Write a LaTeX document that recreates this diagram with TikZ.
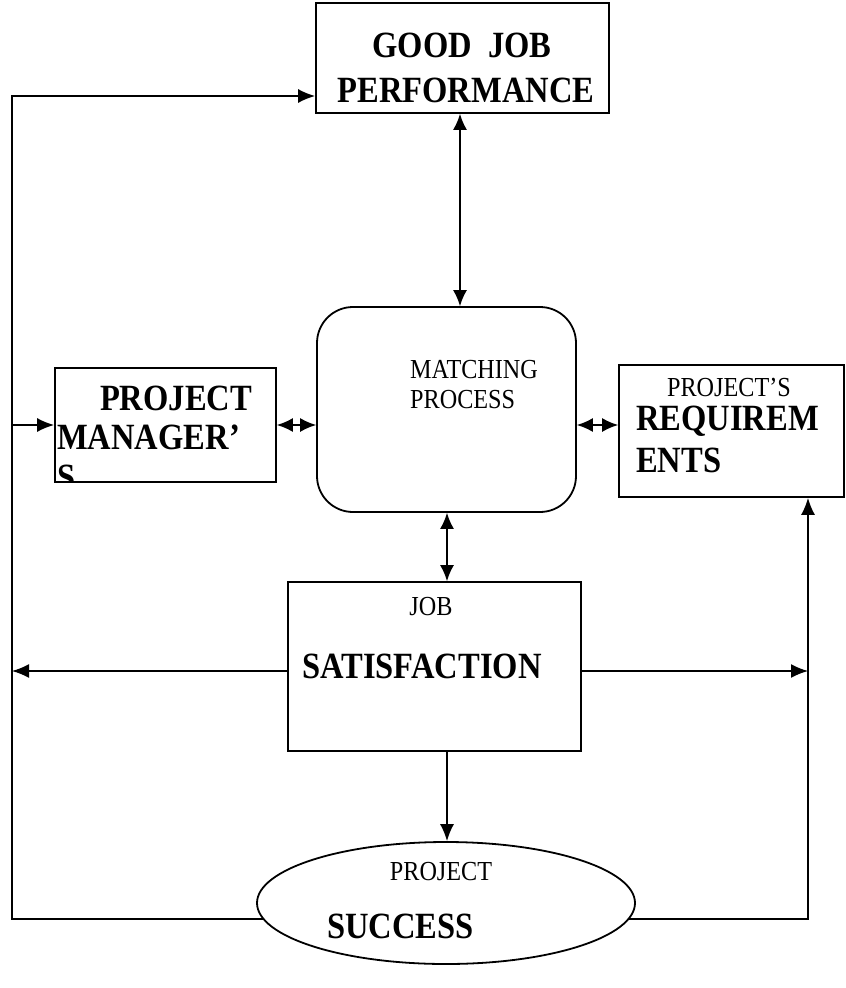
\documentclass[tikz,border=0pt]{standalone}
\usepackage{fontspec}
\setmainfont{Liberation Serif}[FakeStretch=0.88]
\usetikzlibrary{arrows.meta,shapes.geometric}

\begin{document}
\begin{tikzpicture}[x=1pt,y=-1pt,
    box/.style={draw,line width=1.8pt,rectangle,inner sep=0pt},
    conn/.style={line width=1.5pt},
    tip/.style={-{Latex[length=17pt,width=14pt]}},
    both/.style={{Latex[length=16pt,width=14pt]}-{Latex[length=16pt,width=14pt]}},
    big/.style={font=\fontsize{37}{43}\selectfont\bfseries,inner sep=0pt},
    small/.style={font=\fontsize{27.5}{30}\selectfont,inner sep=0pt}]
  \useasboundingbox (0,0) rectangle (846,988);

  % boxes
  \node[box,minimum width=293,minimum height=110] (perf) at (462.5,58) {};
  \node[box,rounded corners=36pt,minimum width=259,minimum height=205] (match) at (446.5,409.5) {};
  \node[box,minimum width=221,minimum height=114] (mgr) at (165.5,425) {};
  \node[box,minimum width=225,minimum height=132] (req) at (731.5,431) {};
  \node[box,minimum width=293,minimum height=169] (sat) at (434.5,666.5) {};
  \node[box,ellipse,minimum width=378,minimum height=122] (succ) at (446,903) {};

  % texts
  \node[big] (perf1) at (462,45) {GOOD\ \ JOB};
  \node[big] (perf2) at (466,90) {PERFORMANCE};
  \node[small,anchor=west] (match1) at (410,370) {MATCHING};
  \node[small,anchor=west] (match2) at (410,400) {PROCESS};
  \node[big] (mgr1) at (176,398) {PROJECT};
  \begin{scope}
    \clip (mgr.south west) rectangle (mgr.north east);
    \node[big,anchor=west] (mgr2) at (57,437) {MANAGER’};
    \node[big,anchor=west] (mgr3) at (57,477) {S};
  \end{scope}
  \node[small] (req1) at (729,387) {PROJECT’S};
  \node[big,anchor=west] (req2) at (636,421) {REQUIREM};
  \node[big,anchor=west] (req3) at (636,460) {ENTS};
  \node[small] (sat1) at (431,607) {JOB};
  \node[big,anchor=west] (sat2) at (302,666) {SATISFACTION};
  \node[small] (succ1) at (441,872) {PROJECT};
  \node[big,anchor=west] (succ2) at (327,926) {SUCCESS};

  % outer loop
  \coordinate (lt) at (12,96);
  \coordinate (lb) at (succ.185 -| 12,0);
  \coordinate (rb) at (succ.-5 -| 808,0);

  \draw[conn,both] (perf.south -| 460,0) -- (match.north -| 460,0);
  \draw[conn,both] (match.south -| 447,0) -- (sat.north -| 447,0);
  \draw[conn,both] (mgr.east) -- (match.west |- mgr.east);
  \draw[conn,both] (match.east |- 0,425) -- (req.west |- 0,425);
  \draw[conn,tip] (sat.south -| 447,0) -- (succ.north -| 447,0);
  \draw[conn,tip] (sat.west |- 0,671) -- (lb |- 0,671);
  \draw[conn,tip] (sat.east |- 0,671) -- (rb |- 0,671);
  \draw[conn,tip] (succ.185) -- (lb) -- (lt) -- (perf.west |- lt);
  \draw[conn,tip] (lb |- mgr.west) -- (mgr.west);
  \draw[conn,tip] (succ.-5) -- (rb) -- (req.south -| rb);
\end{tikzpicture}
\end{document}
